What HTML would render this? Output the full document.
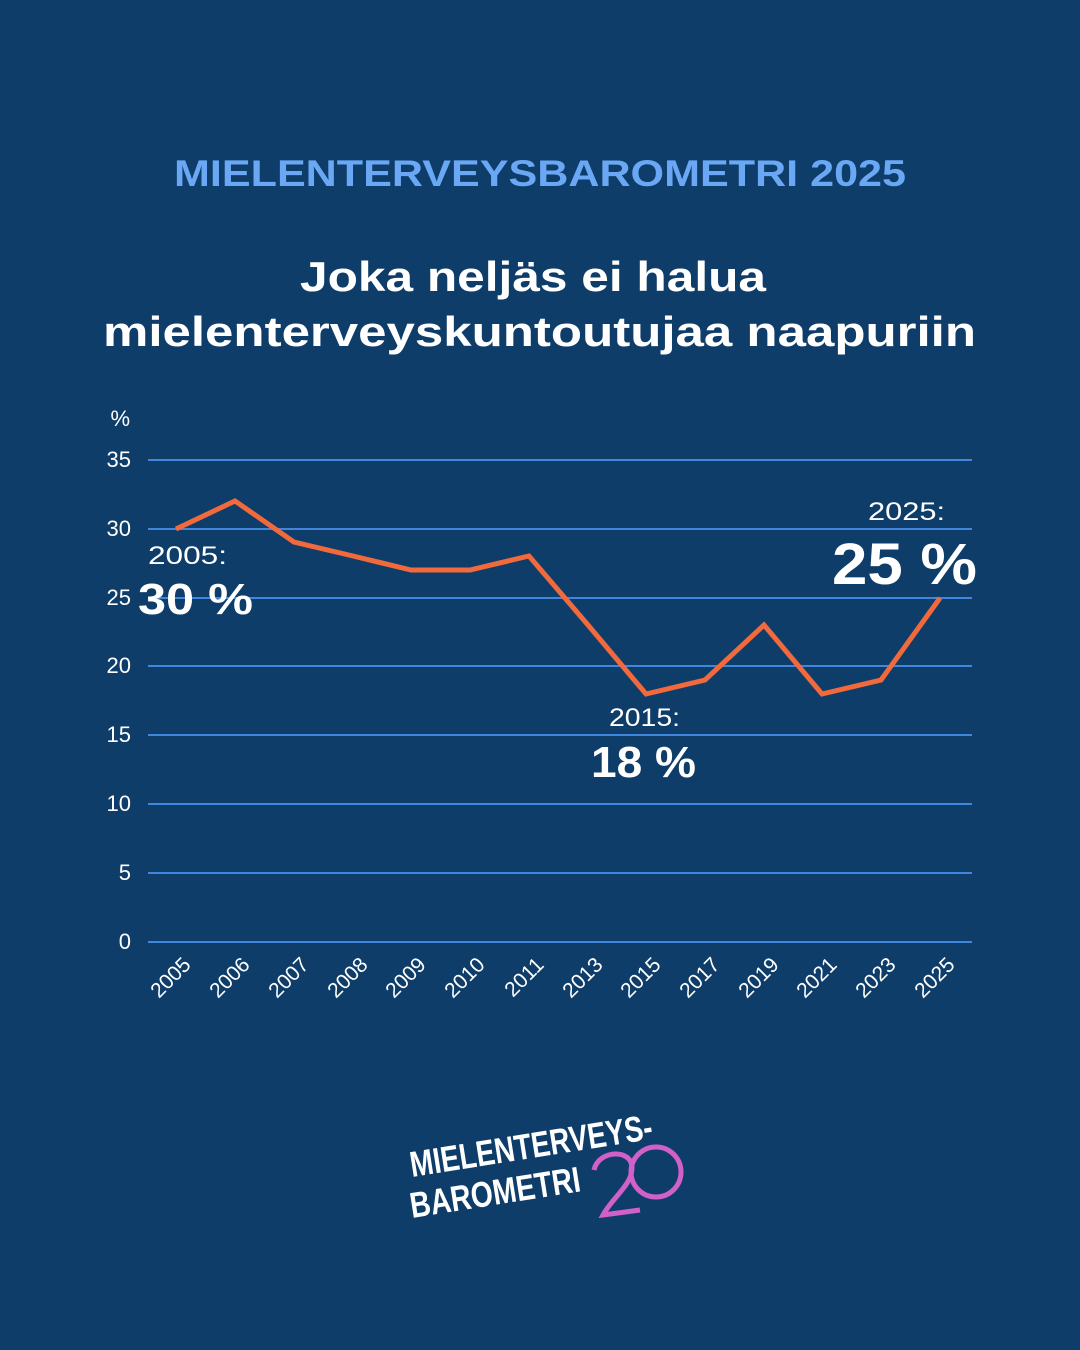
<!DOCTYPE html>
<html><head><meta charset="utf-8"><style>
body{margin:0;width:1080px;height:1350px;background:#0f3d69;overflow:hidden;font-family:"Liberation Sans",sans-serif}
</style></head><body>
<svg width="1080" height="1350" xmlns="http://www.w3.org/2000/svg" style="position:absolute;left:0;top:0">
<text x="174" y="186" fill="#6aa8f5" font-size="37" font-weight="bold" textLength="732" lengthAdjust="spacingAndGlyphs">MIELENTERVEYSBAROMETRI 2025</text>
<text x="300" y="291" fill="#fff" font-size="42" font-weight="bold" textLength="466" lengthAdjust="spacingAndGlyphs">Joka neljäs ei halua</text>
<text x="103" y="346" fill="#fff" font-size="42" font-weight="bold" textLength="873" lengthAdjust="spacingAndGlyphs">mielenterveyskuntoutujaa naapuriin</text>
<g stroke="#3f86dc" stroke-width="2">
<line x1="148" x2="972" y1="460" y2="460"/><line x1="148" x2="972" y1="529" y2="529"/>
<line x1="148" x2="972" y1="598" y2="598"/><line x1="148" x2="972" y1="666" y2="666"/>
<line x1="148" x2="972" y1="735" y2="735"/><line x1="148" x2="972" y1="804" y2="804"/>
<line x1="148" x2="972" y1="873" y2="873"/><line x1="148" x2="972" y1="942" y2="942"/>
</g>
<g fill="#fff" font-size="22" text-anchor="end">
<text x="130" y="426">%</text>
<text x="131" y="467">35</text><text x="131" y="536">30</text><text x="131" y="605">25</text>
<text x="131" y="673">20</text><text x="131" y="742">15</text><text x="131" y="811">10</text>
<text x="131" y="880">5</text><text x="131" y="949">0</text>
</g>
<polyline fill="none" stroke="#f26a3c" stroke-width="5" stroke-linejoin="miter" points="176,529 235,501 294,542 353,556 411,570 470,570 529,556 588,625 646,694 705,680 764,625 822,694 881,680 940,598"/>
<g fill="#fff" font-size="21" text-anchor="end">
<text transform="translate(192,966) rotate(-45)">2005</text>
<text transform="translate(251,966) rotate(-45)">2006</text>
<text transform="translate(310,966) rotate(-45)">2007</text>
<text transform="translate(369,966) rotate(-45)">2008</text>
<text transform="translate(427,966) rotate(-45)">2009</text>
<text transform="translate(486,966) rotate(-45)">2010</text>
<text transform="translate(545,966) rotate(-45)">2011</text>
<text transform="translate(604,966) rotate(-45)">2013</text>
<text transform="translate(662,966) rotate(-45)">2015</text>
<text transform="translate(721,966) rotate(-45)">2017</text>
<text transform="translate(780,966) rotate(-45)">2019</text>
<text transform="translate(838,966) rotate(-45)">2021</text>
<text transform="translate(897,966) rotate(-45)">2023</text>
<text transform="translate(956,966) rotate(-45)">2025</text>
</g>
<g fill="#fff">
<text x="148" y="564" font-size="25" textLength="79" lengthAdjust="spacingAndGlyphs">2005:</text>
<text x="138" y="614" font-size="44" font-weight="bold" textLength="115" lengthAdjust="spacingAndGlyphs">30 %</text>
<text x="609" y="726" font-size="25" textLength="71" lengthAdjust="spacingAndGlyphs">2015:</text>
<text x="591" y="777" font-size="44" font-weight="bold" textLength="105" lengthAdjust="spacingAndGlyphs">18 %</text>
<text x="868" y="520" font-size="25" textLength="77" lengthAdjust="spacingAndGlyphs">2025:</text>
<text x="832" y="584" font-size="58" font-weight="bold" textLength="145" lengthAdjust="spacingAndGlyphs">25 %</text>
</g>
<g fill="#fff" font-size="36" font-weight="bold">
<text transform="translate(412,1177) rotate(-9)" textLength="245" lengthAdjust="spacingAndGlyphs">MIELENTERVEYS-</text>
<text transform="translate(412,1218) rotate(-9)" textLength="172" lengthAdjust="spacingAndGlyphs">BAROMETRI</text>
</g>
<g fill="none" stroke="#d160c8" stroke-width="5">
<path d="M594,1170 C598,1150 632,1148 632,1168 C632,1185 612,1198 603,1215 L640,1210"/>
<circle cx="656" cy="1172" r="25"/>
</g>
</svg>
</body></html>
